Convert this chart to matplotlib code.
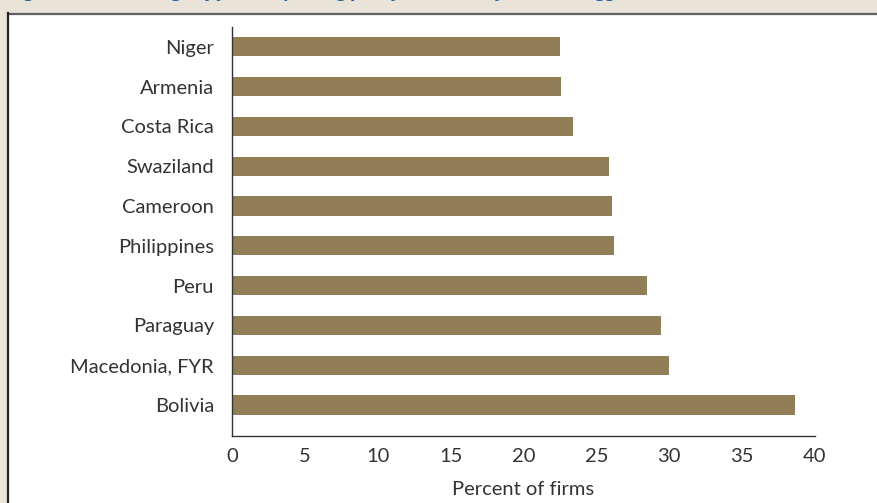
import matplotlib.pyplot as plt
from matplotlib.patches import Rectangle
from matplotlib.lines import Line2D

# Countries listed from top to bottom, values in percent of firms
countries = ['Niger', 'Armenia', 'Costa Rica', 'Swaziland', 'Cameroon',
             'Philippines', 'Peru', 'Paraguay', 'Macedonia, FYR', 'Bolivia']
values = [22.5, 22.6, 23.4, 25.9, 26.1, 26.2, 28.5, 29.4, 30.0, 38.6]
x_ticks = [0, 5, 10, 15, 20, 25, 30, 35, 40]

bar_color = '#917E56'
text_color = '#333333'

plt.rcParams['font.family'] = ['Lato', 'DejaVu Sans']

fig = plt.figure(figsize=(8.78, 5.03), dpi=100)
fig.patch.set_facecolor('#E9E3D8')

# white panel with its borders
W, H = 878.0, 503.0
fig.patches.append(Rectangle((8 / W, 0), 1 - 8 / W, 1 - 14 / H,
                             transform=fig.transFigure, facecolor='white',
                             edgecolor='none', zorder=-10))
fig.lines.append(Line2D([8 / W, 1], [1 - 13.5 / H, 1 - 13.5 / H],
                        transform=fig.transFigure, color='#5f5f5f', lw=1.6, zorder=-5))
fig.lines.append(Line2D([8 / W, 8 / W], [0, 1 - 13 / H],
                        transform=fig.transFigure, color='#222222', lw=1.6, zorder=-5))

# title cut off at the top edge, only its descenders show
fig.text(10 / W, 1 + 3.5 / H,
         'Figure 3.3 Percentage of firms reporting policy uncertainty as their biggest constraint',
         color='#1F5FA3', fontsize=13, fontweight='bold', fontstyle='italic',
         family=['Open Sans', 'DejaVu Sans'], ha='left', va='baseline')

ax = fig.add_axes([232 / W, 1 - 436 / H, (815 - 232) / W, (436 - 27) / H])
ax.set_facecolor('none')
ax.set_zorder(1)

pos = list(range(len(countries) - 1, -1, -1))
ax.barh(pos, values, height=0.48, color=bar_color)

ax.set_xlim(0, 40)
ax.set_ylim(-0.78, 9.5)
ax.set_xticks(x_ticks)
ax.set_yticks(pos)
ax.set_yticklabels(countries)

for side in ['top', 'right']:
    ax.spines[side].set_visible(False)
for side in ['left', 'bottom']:
    ax.spines[side].set_color('#333333')
    ax.spines[side].set_linewidth(1.0)

ax.tick_params(axis='y', length=0, pad=13, labelsize=14.5, labelcolor=text_color)
ax.tick_params(axis='x', length=0, pad=9, labelsize=14.5, labelcolor=text_color)
ax.set_xlabel('Percent of firms', fontsize=14.5, color=text_color, labelpad=11)

fig.savefig('out.png', dpi=100, facecolor=fig.get_facecolor())
